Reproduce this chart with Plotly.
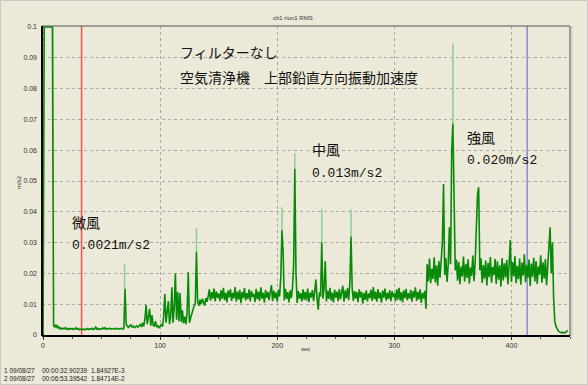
import plotly.graph_objects as go

# ---------------- data ----------------
# RMS acceleration (m/s^2), one sample per second
rms_start = [0.0, 0.1, 0.1, 0.1, 0.1, 0.1, 0.1, 0.1, 0.1]  # t = 0..8
rms_breeze = [  # t = 9..140
    0.0030, 0.0026, 0.0034, 0.0024, 0.0028, 0.0020, 0.0023, 0.0019, 0.0022, 0.0020,
    0.0024, 0.0019, 0.0021, 0.0018, 0.0022, 0.0019, 0.0021, 0.0018, 0.0020, 0.0023,
    0.0019, 0.0021, 0.0017, 0.0019, 0.0018, 0.0020, 0.0017, 0.0019, 0.0018, 0.0021,
    0.0018, 0.0020, 0.0019, 0.0022, 0.0018, 0.0020, 0.0026, 0.0019, 0.0021, 0.0018,
    0.0020, 0.0019, 0.0023, 0.0020, 0.0024, 0.0019, 0.0021, 0.0020, 0.0022, 0.0019,
    0.0021, 0.0020, 0.0019, 0.0022, 0.0020, 0.0021, 0.0019, 0.0020, 0.0022, 0.0019,
    0.0021, 0.0150, 0.0035, 0.0028, 0.0025, 0.0030, 0.0033, 0.0026, 0.0029, 0.0024,
    0.0027, 0.0030, 0.0025, 0.0028, 0.0034, 0.0026, 0.0040, 0.0028, 0.0052, 0.0097,
    0.0035, 0.0060, 0.0085, 0.0030, 0.0065, 0.0032, 0.0028, 0.0045, 0.0026, 0.0030,
    0.0024, 0.0028, 0.0035, 0.0027, 0.0060, 0.0133, 0.0040, 0.0075, 0.0110, 0.0035,
    0.0060, 0.0155, 0.0040, 0.0090, 0.0200, 0.0050, 0.0140, 0.0045, 0.0136, 0.0042,
    0.0080, 0.0038, 0.0060, 0.0035, 0.0070, 0.0204, 0.0040, 0.0055, 0.0070, 0.0085,
    0.0095, 0.0100, 0.0270, 0.0110, 0.0095, 0.0115, 0.0100, 0.0118, 0.0105, 0.0095,
    0.0120, 0.0108,
]
rms_medium = [  # t = 141..327
    0.0125, 0.0148, 0.0112, 0.0139, 0.0118, 0.0151, 0.0109, 0.0142, 0.0121, 0.0135,
    0.0110, 0.0146, 0.0117, 0.0153, 0.0113, 0.0138, 0.0106, 0.0144, 0.0122, 0.0149,
    0.0111, 0.0137, 0.0119, 0.0156, 0.0108, 0.0141, 0.0115, 0.0147, 0.0103, 0.0139,
    0.0120, 0.0152, 0.0112, 0.0136, 0.0117, 0.0148, 0.0109, 0.0143, 0.0124, 0.0134,
    0.0107, 0.0150, 0.0116, 0.0141, 0.0111, 0.0155, 0.0118, 0.0137, 0.0105, 0.0146,
    0.0121, 0.0140, 0.0113, 0.0149, 0.0162, 0.0110, 0.0144, 0.0119, 0.0138, 0.0108,
    0.0147, 0.0125, 0.0185, 0.0340, 0.0270, 0.0112, 0.0150, 0.0117, 0.0139, 0.0106,
    0.0145, 0.0120, 0.0152, 0.0230, 0.0540, 0.0200, 0.0104, 0.0143, 0.0118, 0.0136,
    0.0109, 0.0148, 0.0115, 0.0140, 0.0112, 0.0151, 0.0107, 0.0137, 0.0122, 0.0146,
    0.0110, 0.0142, 0.0180, 0.0116, 0.0082, 0.0139, 0.0125, 0.0300, 0.0118, 0.0150,
    0.0240, 0.0109, 0.0144, 0.0117, 0.0153, 0.0112, 0.0138, 0.0106, 0.0147, 0.0121,
    0.0141, 0.0110, 0.0149, 0.0116, 0.0136, 0.0160, 0.0108, 0.0145, 0.0119, 0.0152,
    0.0113, 0.0170, 0.0320, 0.0150, 0.0111, 0.0143, 0.0118, 0.0139, 0.0107, 0.0148,
    0.0122, 0.0140, 0.0102, 0.0137, 0.0114, 0.0145, 0.0109, 0.0135, 0.0120, 0.0147,
    0.0111, 0.0156, 0.0116, 0.0141, 0.0108, 0.0149, 0.0119, 0.0138, 0.0105, 0.0144,
    0.0121, 0.0151, 0.0112, 0.0137, 0.0117, 0.0146, 0.0110, 0.0142, 0.0123, 0.0135,
    0.0109, 0.0148, 0.0115, 0.0153, 0.0112, 0.0139, 0.0106, 0.0145, 0.0120, 0.0150,
    0.0113, 0.0136, 0.0118, 0.0147, 0.0108, 0.0142, 0.0122, 0.0155, 0.0111, 0.0140,
    0.0116, 0.0148, 0.0104, 0.0137, 0.0119, 0.0143, 0.0085,
]
rms_strong = [  # t = 328..435
    0.0230, 0.0175, 0.0248, 0.0168, 0.0215, 0.0182, 0.0252, 0.0171, 0.0226, 0.0160,
    0.0240, 0.0186, 0.0232, 0.0300, 0.0490, 0.0195, 0.0250, 0.0172, 0.0228, 0.0350,
    0.0230, 0.0600, 0.0687, 0.0400, 0.0210, 0.0245, 0.0176, 0.0238, 0.0165, 0.0222,
    0.0190, 0.0255, 0.0173, 0.0231, 0.0185, 0.0246, 0.0167, 0.0219, 0.0192, 0.0258,
    0.0175, 0.0236, 0.0330, 0.0455, 0.0480, 0.0210, 0.0249, 0.0169, 0.0227, 0.0183,
    0.0242, 0.0161, 0.0234, 0.0188, 0.0253, 0.0170, 0.0221, 0.0194, 0.0247, 0.0166,
    0.0239, 0.0180, 0.0226, 0.0158, 0.0250, 0.0177, 0.0233, 0.0187, 0.0244, 0.0164,
    0.0229, 0.0308, 0.0172, 0.0237, 0.0190, 0.0256, 0.0168, 0.0224, 0.0181, 0.0248,
    0.0163, 0.0235, 0.0193, 0.0262, 0.0171, 0.0228, 0.0185, 0.0245, 0.0159, 0.0232,
    0.0189, 0.0251, 0.0174, 0.0240, 0.0166, 0.0223, 0.0196, 0.0259, 0.0170, 0.0236,
    0.0183, 0.0247, 0.0162, 0.0231, 0.0280, 0.0350, 0.0200, 0.0300,
]
rms_stop = [0.0120, 0.0045, 0.0028, 0.0019, 0.0014, 0.0010, 0.0008,
            0.0007, 0.0009, 0.0006, 0.0008, 0.0011, 0.0015]  # t = 436..448

# peak-hold spikes (lighter trace): time, from, to
spike_t = [8.4, 69.6, 131, 204, 215, 238, 263, 350]
spike_lo = [0.049, 0.015, 0.027, 0.034, 0.054, 0.030, 0.032, 0.0687]
spike_hi = [0.100, 0.023, 0.0347, 0.0415, 0.059, 0.0408, 0.0408, 0.0947]

# cursors
cursor_no = ["1", "2"]
cursor_date = ["09/08/27", "09/08/27"]
cursor_time_txt = ["00:00:32.90239", "00:06:53.39542"]
cursor_sec = [32.90239, 413.39542]
cursor_val_txt = ["1.84927E-3", "1.84714E-2"]
cursor_color = ["#ff5050", "#5a5ae0"]
cursor_width = [1.5, 1]

y_ticks = [0, 0.01, 0.02, 0.03, 0.04, 0.05, 0.06, 0.07, 0.08, 0.09, 0.1]
y_ticktext = ["0", "0.01", "0.02", "0.03", "0.04", "0.05", "0.06", "0.07", "0.08", "0.09", "0.1"]
x_ticks = [0, 100, 200, 300, 400]

labels = [
    ("フィルターなし", 178, 52),
    ("空気清浄機　上部鉛直方向振動加速度", 178, 77),
    ("微風", 70, 222),
    ("0.0021m/s2", 70, 245),
    ("中風", 310, 149),
    ("0.013m/s2", 310, 173),
    ("強風", 465, 137),
    ("0.020m/s2", 465, 161),
]

# ---------------- figure ----------------
rms = rms_start + rms_breeze + rms_medium + rms_strong + rms_stop
sec = list(range(len(rms)))

W, H = 588, 385
L, R, T, B = 42, 570, 26, 336


def px(p):
    return (p - L) / (R - L)


def py(p):
    return (B - p) / (B - T)


BG = "#ece9d8"
fig = go.Figure()

# light peak-hold spikes
sx, sy = [], []
for t, lo, hi in zip(spike_t, spike_lo, spike_hi):
    sx += [t, t, None]
    sy += [lo, hi, None]
fig.add_trace(go.Scatter(x=sx, y=sy, mode="lines",
                         line=dict(color="#8ccf8c", width=1.5),
                         hoverinfo="skip", showlegend=False))

fig.add_trace(go.Scatter(x=sec, y=rms, mode="lines",
                         line=dict(color="#078a07", width=1.6),
                         showlegend=False))

shapes = []
# cursors
for cs, cc, cw in zip(cursor_sec, cursor_color, cursor_width):
    shapes.append(dict(type="line", xref="x", yref="paper", x0=cs, x1=cs, y0=0, y1=1,
                       line=dict(color=cc, width=cw), layer="between"))
# frame
shapes += [
    dict(type="line", xref="paper", yref="paper", x0=0, x1=1, y0=1, y1=1,
         line=dict(color="#555555", width=1)),
    dict(type="line", xref="paper", yref="paper", x0=1, x1=1, y0=0, y1=1,
         line=dict(color="#9a9a9a", width=2)),
    dict(type="line", xref="paper", yref="paper", x0=px(R + 2), x1=px(R + 2), y0=0, y1=1,
         line=dict(color="#c9c6b6", width=1)),
    dict(type="line", xref="paper", yref="paper", x0=0, x1=0, y0=0, y1=1,
         line=dict(color="black", width=2)),
    dict(type="line", xref="paper", yref="paper", x0=0, x1=1, y0=0, y1=0,
         line=dict(color="black", width=2)),
    # outer window border
    dict(type="rect", xref="paper", yref="paper", x0=px(0.5), x1=px(W - 0.5),
         y0=py(H - 0.5), y1=py(0.5), line=dict(color="#c8c8c8", width=1)),
]

ann = []
for txt, x0, y0 in labels:
    num = txt[0].isdigit()
    ann.append(dict(text=txt, xref="paper", yref="paper", x=px(x0), y=py(y0),
                    xanchor="left", yanchor="middle", showarrow=False,
                    font=dict(family="Liberation Mono, Noto Sans CJK JP" if num
                              else "Noto Sans CJK JP", size=13 if num else 14,
                              color="#111111")))
small = dict(family="Liberation Sans, Arial", size=6, color="#333333")
ann.append(dict(text="ch1 rion1 RMS", xref="paper", yref="paper", x=px(293), y=py(18),
                xanchor="center", yanchor="middle", showarrow=False, font=small))
ann.append(dict(text="m/s2", xref="paper", yref="paper", x=px(19), y=py(182),
                xanchor="center", yanchor="middle", showarrow=False, textangle=-90, font=small))
ann.append(dict(text="sec", xref="paper", yref="paper", x=px(305), y=py(349),
                xanchor="center", yanchor="middle", showarrow=False, font=small))
readout = dict(family="Liberation Sans, Arial", size=6.5, color="#222222")
for i in range(len(cursor_no)):
    yy = py(370 + 8.5 * i)
    ann.append(dict(text=cursor_no[i] + " " + cursor_date[i], xref="paper", yref="paper",
                    x=px(2), y=yy, xanchor="left", yanchor="middle", showarrow=False, font=readout))
    ann.append(dict(text=cursor_time_txt[i], xref="paper", yref="paper",
                    x=px(40), y=yy, xanchor="left", yanchor="middle", showarrow=False, font=readout))
    ann.append(dict(text=cursor_val_txt[i], xref="paper", yref="paper",
                    x=px(89), y=yy, xanchor="left", yanchor="middle", showarrow=False, font=readout))

fig.update_layout(
    width=W, height=H,
    margin=dict(l=L, r=W - R, t=T, b=H - B, pad=0),
    paper_bgcolor=BG, plot_bgcolor=BG,
    shapes=shapes, annotations=ann,
    xaxis=dict(range=[-0.9, 450], tickvals=x_ticks, showgrid=True, gridcolor="#a8a8a8",
               griddash="dot", gridwidth=1, zeroline=False, showline=False,
               ticks="outside", ticklen=3, tickcolor="#333333",
               minor=dict(dtick=25, ticks="outside", ticklen=2, tickcolor="#555555", showgrid=False),
               tickfont=dict(family="Liberation Sans, Arial", size=7, color="#333333")),
    yaxis=dict(range=[-0.00032, 0.10032], tickvals=y_ticks, ticktext=y_ticktext,
               showgrid=True, gridcolor="#a8a8a8", griddash="dot", gridwidth=1,
               zeroline=False, showline=False, ticks="", ticklabelstandoff=4,
               tickfont=dict(family="Liberation Sans, Arial", size=7, color="#333333")),
)

fig.write_html(
    "out.html",
    config={"displayModeBar": False},
    post_script="document.body.style.margin='0';document.body.style.background='#ece9d8';"
                "document.body.style.overflow='hidden';",
)
